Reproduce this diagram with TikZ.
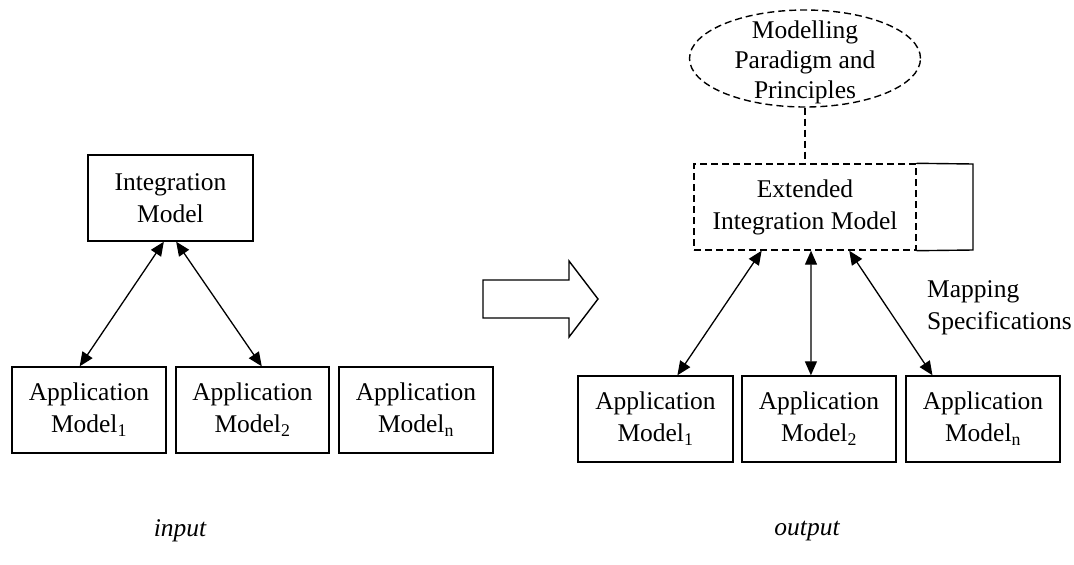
\documentclass[tikz,border=0pt]{standalone}
\usepackage{fontspec}
\setmainfont{Liberation Serif}
\usetikzlibrary{arrows.meta,shapes.geometric,calc}
\begin{document}
\begin{tikzpicture}[x=1pt,y=-1pt,
  every node/.style={font=\fontsize{25.5}{32}\selectfont},
  box/.style={draw,line width=1.4pt,rectangle,inner sep=0pt,align=center,minimum height=86pt},
  dsh/.style={dash pattern=on 7pt off 4pt},
  link/.style={line width=1.3pt,{Triangle[length=14pt,width=12pt]}-{Triangle[length=14pt,width=12pt]}}]
\useasboundingbox (0,0) rectangle (1074,565);
% left side
\node[box,minimum width=165pt] (im) at (170.5,198) {Integration\\Model};
\node[box,minimum width=154pt] (a1) at (89,410) {Application\\Model\textsubscript{1}};
\node[box,minimum width=153pt] (a2) at (252.5,410) {Application\\Model\textsubscript{2}};
\node[box,minimum width=154pt] (an) at (416,410) {Application\\Model\textsubscript{n}};
\draw[link] ($(im.south west)!0.46!(im.south east)$) -- ($(a1.north west)!0.44!(a1.north east)$);
\draw[link] ($(im.south west)!0.534!(im.south east)$) -- ($(a2.north west)!0.56!(a2.north east)$);
% big arrow
\draw[line width=1.4pt,line join=miter] (483,280) -- (569,280) -- (569,261) -- (598,299) -- (569,337) -- (569,318) -- (483,318) -- cycle;
% right side
\node[draw,dsh,line width=1.4pt,ellipse,minimum width=231pt,minimum height=97pt,inner sep=0pt] (ell) at (805,58.5) {};
\node[align=center,inner sep=0pt,font=\fontsize{25.5}{30}\selectfont] (elltext) at (805,62) {Modelling\\Paradigm and\\Principles};
\node[box,dsh,minimum width=222pt] (ext) at (805,207) {Extended\\Integration Model};
\coordinate (extne) at (973,164);
\coordinate (extse) at (973,250);
\draw[line width=1.4pt] (ext.north east) -- (extne) -- (extse) -- (ext.south east);
\draw[line width=1.4pt,dsh] (ell.south) -- (ext.north);
\node[box,minimum width=155pt] (r1) at (655.5,419) {Application\\Model\textsubscript{1}};
\node[box,minimum width=154pt] (r2) at (819,419) {Application\\Model\textsubscript{2}};
\node[box,minimum width=154pt] (rn) at (983,419) {Application\\Model\textsubscript{n}};
\draw[link] ($(ext.south west)!0.306!(ext.south east)$) -- ($(r1.north west)!0.64!(r1.north east)$);
\draw[link] ($(ext.south west)!0.527!(ext.south east)$) -- ($(r2.north west)!0.448!(r2.north east)$);
\draw[link] ($(ext.south west)!0.698!(ext.south east)$) -- ($(rn.north west)!0.175!(rn.north east)$);
\node[anchor=west,align=left,inner sep=0pt] (map) at (927,308) {Mapping\\Specifications};
% labels
\node[font=\fontsize{25.5}{32}\selectfont\itshape] (in) at (180,531) {input};
\node[font=\fontsize{25.5}{32}\selectfont\itshape] (out) at (807,531) {output};
\end{tikzpicture}
\end{document}
